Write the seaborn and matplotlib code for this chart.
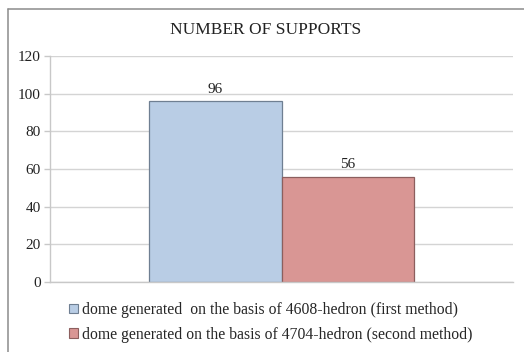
import matplotlib
matplotlib.use("Agg")
import matplotlib.pyplot as plt
from matplotlib.patches import Patch
import seaborn as sns
import pandas as pd

# Chart data
category = ["dome"]
series = [
    "dome generated  on the basis of 4608-hedron (first method)",
    "dome generated on the basis of 4704-hedron (second method)",
]
supports = [96, 56]
y_ticks = [0, 20, 40, 60, 80, 100, 120]
title = "NUMBER OF SUPPORTS"

fill_colors = ["#B9CDE5", "#D99694"]
edge_colors = ["#6F7F92", "#8C5F5E"]

df = pd.DataFrame({"cat": category * len(series), "series": series, "value": supports})

sns.set_theme(style="white")
plt.rcParams["font.family"] = ["Liberation Serif", "DejaVu Serif"]

W, H = 524, 352
fig = plt.figure(figsize=(W / 100, H / 100), dpi=100)

# outer chart frame (left and top edges visible)
fig.add_artist(plt.Line2D([7.5 / W, 7.5 / W], [0, 1 - 8.5 / H], color="#8C8C8C", lw=1.1,
                          transform=fig.transFigure))
fig.add_artist(plt.Line2D([7.5 / W, 1], [1 - 8.5 / H, 1 - 8.5 / H], color="#8C8C8C", lw=1.1,
                          transform=fig.transFigure))

ax = fig.add_axes([50 / W, 70 / H, 463 / W, 226 / H])
sns.barplot(data=df, x="cat", y="value", hue="series", palette=fill_colors,
            width=0.572, dodge=True, ax=ax, legend=False, saturation=1)

for i, container in enumerate(ax.containers):
    for bar in container:
        bar.set_edgecolor(edge_colors[i])
        bar.set_linewidth(0.9)
    ax.bar_label(container, labels=[str(v) for v in [supports[i]]], padding=4, fontsize=11,
                 color="#222222")

ax.set_xlim(-0.5, 0.5)
ax.set_ylim(0, 120)
ax.set_yticks(y_ticks)
ax.set_yticklabels([str(t) for t in y_ticks], fontsize=11, color="#222222")
ax.set_xticks([])
ax.set_xlabel("")
ax.set_ylabel("")
ax.yaxis.grid(True, color="#D4D4D4", lw=1.0)
ax.set_axisbelow(True)
for side in ["top", "right"]:
    ax.spines[side].set_visible(False)
ax.spines["left"].set_color("#C8C8C8")
ax.spines["bottom"].set_color("#C8C8C8")
ax.spines["left"].set_linewidth(1.0)
ax.spines["bottom"].set_linewidth(1.0)
ax.tick_params(axis="y", which="both", left=True, length=4, width=1.0, color="#C8C8C8", pad=2.5)

fig.text(266 / W, 1 - 30 / H, title, ha="center", va="center", fontsize=12.5, color="#222222")

handles = [Patch(facecolor=fill_colors[i], edgecolor=edge_colors[i], lw=0.8) for i in range(2)]
fig.legend(handles, series, loc="upper left", bbox_to_anchor=(69 / W, 1 - 302 / H),
           frameon=False, fontsize=11.3, handlelength=0.55, handleheight=0.55,
           handletextpad=0.3, labelspacing=0.55, borderpad=0, borderaxespad=0)

fig.savefig("out.png", dpi=100, facecolor="white")
